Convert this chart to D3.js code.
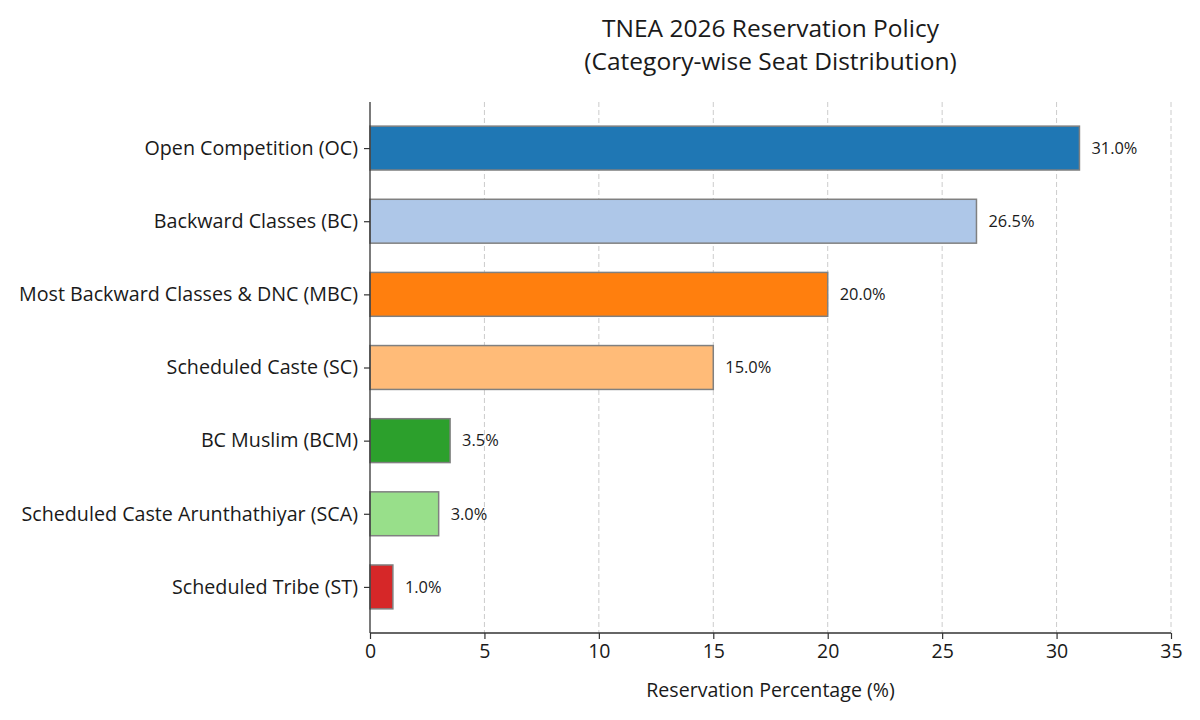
<!DOCTYPE html>
<html><head><meta charset="utf-8">
<script src="https://cdn.jsdelivr.net/npm/d3@7"></script>
<style>
body{margin:0;background:#fff;}
text{font-family:"Open Sans",sans-serif;fill:#1a1a1a;}
</style></head><body>
<svg id="c" width="1200" height="720"></svg>
<script>
const categories = ["Open Competition (OC)","Backward Classes (BC)","Most Backward Classes & DNC (MBC)","Scheduled Caste (SC)","BC Muslim (BCM)","Scheduled Caste Arunthathiyar (SCA)","Scheduled Tribe (ST)"];
const values = [31.0, 26.5, 20.0, 15.0, 3.5, 3.0, 1.0];
const colors = ["#1f77b4","#aec7e8","#ff7f0e","#ffbb78","#2ca02c","#98df8a","#d62728"];
const xTicks = [0,5,10,15,20,25,30,35];
const titleLines = ["TNEA 2026 Reservation Policy","(Category-wise Seat Distribution)"];
const xLabel = "Reservation Percentage (%)";

const svg = d3.select("#c");
const L=370, R=1171, T=102, B=633;
const x = d3.scaleLinear().domain([0,35]).range([L,R]);
const y = d3.scaleLinear().domain([-0.63, 6.63]).range([T,B]);
const bh = 0.6;

// grid
svg.append("g").selectAll("line").data(xTicks.slice(1)).join("line")
  .attr("x1",d=>x(d)).attr("x2",d=>x(d)).attr("y1",T).attr("y2",B)
  .attr("stroke","#cccccc").attr("stroke-width",1).attr("stroke-dasharray","5,3");

// bars
svg.append("g").selectAll("rect").data(values).join("rect")
  .attr("x",x(0)).attr("y",(d,i)=>y(i-bh/2))
  .attr("width",d=>x(d)-x(0)).attr("height",y(bh)-y(0))
  .attr("fill",(d,i)=>colors[i]).attr("stroke","#808080").attr("stroke-width",1.5);

// value labels
svg.append("g").selectAll("text").data(values).join("text")
  .attr("x",d=>x(d)+12).attr("y",(d,i)=>y(i)).attr("dy","0.35em")
  .attr("font-size",16.4).text(d=>d.toFixed(1)+"%");

// axes
const xAxis = d3.axisBottom(x).tickValues(xTicks).tickSize(6).tickPadding(5).tickFormat(d3.format("d"));
const gx = svg.append("g").attr("transform",`translate(0,${B})`).call(xAxis);
gx.select(".domain").attr("stroke","#333").attr("stroke-width",1.3).attr("d",`M${L},0H${R}`);
gx.selectAll(".tick line").attr("stroke","#333").attr("stroke-width",1.2);
gx.selectAll(".tick text").attr("font-size",19.5).attr("font-family","Open Sans").attr("fill","#1a1a1a");

const yAxis = d3.axisLeft(y).tickValues(d3.range(categories.length)).tickSize(6).tickPadding(6).tickFormat(i=>categories[i]);
const gy = svg.append("g").attr("transform",`translate(${L},0)`).call(yAxis);
gy.select(".domain").attr("stroke","#333").attr("stroke-width",1.3).attr("d",`M0,${T}V${B}`);
gy.selectAll(".tick line").attr("stroke","#333").attr("stroke-width",1.2);
gy.selectAll(".tick text").attr("font-size",19.7).attr("font-family","Open Sans").attr("fill","#1a1a1a");

// title
svg.append("text").attr("x",(L+R)/2).attr("y",37).attr("text-anchor","middle").attr("font-size",24.5).text(titleLines[0]);
svg.append("text").attr("x",(L+R)/2).attr("y",70).attr("text-anchor","middle").attr("font-size",24.5).text(titleLines[1]);
// x label
svg.append("text").attr("x",(L+R)/2).attr("y",697).attr("text-anchor","middle").attr("font-size",19.6).text(xLabel);
</script></body></html>
